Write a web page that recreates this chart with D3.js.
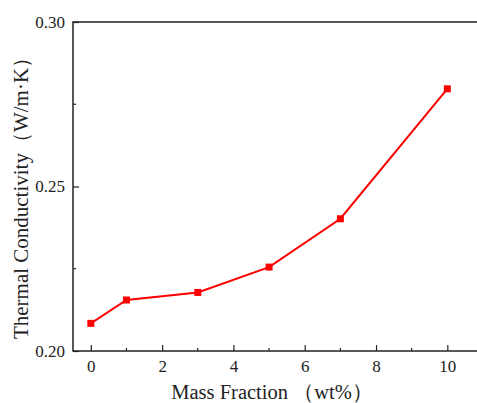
<!DOCTYPE html>
<html>
  <head>
    <meta charset="UTF-8" />
    <title>Thermal Conductivity</title>
    <style>
      body { margin: 0; background: #fff; }
      text { font-family: "Liberation Serif", "DejaVu Serif", serif; fill: #222; }
    </style>
  </head>
  <body>
    <svg width="477" height="403"></svg>

    <script src="https://d3js.org/d3.v7.min.js"></script>
    <script>
      // data
      const massFraction = [0, 1, 3, 5, 7, 10];
      const conductivity = [0.2084, 0.2155, 0.2178, 0.2255, 0.2402, 0.2797];
      const xTicks = [0, 2, 4, 6, 8, 10];
      const xMinor = [1, 3, 5, 7, 9, 11];
      const yTicks = [0.2, 0.25, 0.3];
      const yMinor = [0.225, 0.275];

      const svg = d3.select("svg");
      const mLeft = 73, mTop = 22, mBottom = 351, mRight = 484;

      const x = d3.scaleLinear().domain([-0.5, 11]).range([mLeft, mLeft + 11.5 * 35.65]);
      const y = d3.scaleLinear().domain([0.2, 0.3]).range([mBottom, mTop]);

      // frame
      svg.append("rect")
        .attr("x", mLeft).attr("y", mTop)
        .attr("width", mRight - mLeft).attr("height", mBottom - mTop)
        .attr("fill", "none").attr("stroke", "#222").attr("stroke-width", 1.5);

      // x axis, ticks inward
      const xAxis = svg.append("g").attr("transform", `translate(0,${mBottom})`)
        .call(d3.axisBottom(x).tickValues(xTicks).tickSizeInner(-6).tickSizeOuter(0).tickPadding(9));
      xAxis.select(".domain").remove();
      xAxis.selectAll("line").attr("stroke", "#222").attr("stroke-width", 1.2);
      xAxis.selectAll("text").style("font-size", "17px").style("font-family", "'Liberation Serif', serif").style("fill", "#222");
      svg.append("g").selectAll("line").data(xMinor).join("line")
        .attr("x1", d => x(d)).attr("x2", d => x(d))
        .attr("y1", mBottom).attr("y2", mBottom - 3)
        .attr("stroke", "#222").attr("stroke-width", 1.2);

      // y axis
      const yAxis = svg.append("g").attr("transform", `translate(${mLeft},0)`)
        .call(d3.axisLeft(y).tickValues(yTicks).tickFormat(d3.format(".2f")).tickSizeInner(-6).tickSizeOuter(0).tickPadding(8));
      yAxis.select(".domain").remove();
      yAxis.selectAll("line").attr("stroke", "#222").attr("stroke-width", 1.2);
      yAxis.selectAll("text").style("font-size", "17px").style("font-family", "'Liberation Serif', serif").style("fill", "#222");
      svg.append("g").selectAll("line").data(yMinor).join("line")
        .attr("x1", mLeft).attr("x2", mLeft + 3)
        .attr("y1", d => y(d)).attr("y2", d => y(d))
        .attr("stroke", "#222").attr("stroke-width", 1.2);

      // axis titles
      svg.append("text")
        .attr("x", 272).attr("y", 399)
        .attr("text-anchor", "middle").attr("font-size", "20.5px")
        .text("Mass Fraction （wt%）");
      svg.append("text")
        .attr("transform", "translate(28,193) rotate(-90)")
        .attr("text-anchor", "middle").attr("font-size", "21px")
        .text("Thermal Conductivity（W/m·K）");

      // line
      const pts = massFraction.map((m, i) => [m, conductivity[i]]);
      svg.append("path")
        .datum(pts)
        .attr("d", d3.line().x(d => x(d[0])).y(d => y(d[1])))
        .attr("fill", "none").attr("stroke", "#ff0000").attr("stroke-width", 2);

      svg.selectAll(".pt").data(pts).join("rect")
        .attr("class", "pt")
        .attr("x", d => x(d[0]) - 3.5).attr("y", d => y(d[1]) - 3.5)
        .attr("width", 7).attr("height", 7)
        .attr("fill", "#ff0000");
    </script>
  </body>
</html>
